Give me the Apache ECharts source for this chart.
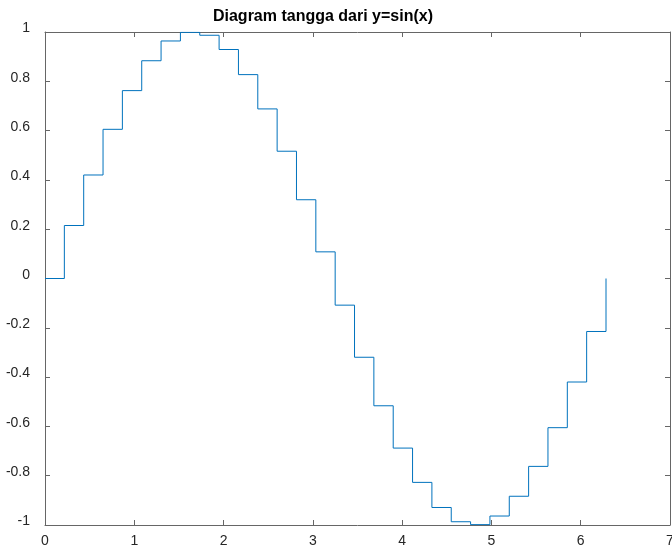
<!DOCTYPE html>
<html>
<head>
<meta charset="utf-8">
<script src="https://cdn.jsdelivr.net/npm/echarts@6/dist/echarts.min.js"></script>
<style>html,body{margin:0;padding:0;background:#fff}#c{width:672px;height:552px}</style>
</head>
<body>
<div id="c"></div>
<script>
var titleText = 'Diagram tangga dari y=sin(x)';
var xValues = [0, 0.2167, 0.4333, 0.6500, 0.8666, 1.0833, 1.3000, 1.5166, 1.7333, 1.9500,
  2.1666, 2.3833, 2.5999, 2.8166, 3.0333, 3.2499, 3.4666, 3.6833, 3.8999, 4.1166,
  4.3332, 4.5499, 4.7666, 4.9832, 5.1999, 5.4165, 5.6332, 5.8499, 6.0665, 6.2832];
var yValues = [0, 0.2150, 0.4199, 0.6052, 0.7622, 0.8834, 0.9636, 0.9985, 0.9868, 0.9290,
  0.8271, 0.6880, 0.5163, 0.3195, 0.1081, -0.1081, -0.3195, -0.5163, -0.6880, -0.8271,
  -0.9290, -0.9868, -0.9985, -0.9636, -0.8834, -0.7622, -0.6052, -0.4199, -0.2150, 0];

var pts = xValues.map(function (x, i) { return [x, yValues[i]]; });
var axisColor = '#666666';
var labelColor = '#262626';
var font = 'Liberation Sans, Arial, Helvetica, sans-serif';

function xAx(pos, showLabel) {
  return {
    type: 'value', position: pos, min: 0, max: 7, interval: 1,
    axisLine: { show: true, onZero: false, lineStyle: { color: axisColor, width: 1 } },
    axisTick: { show: true, inside: true, length: 5, lineStyle: { color: axisColor } },
    axisLabel: { show: showLabel, color: labelColor, fontSize: 14, fontFamily: font, margin: 9 },
    splitLine: { show: false }
  };
}
function yAx(pos, showLabel) {
  return {
    type: 'value', position: pos, min: -1, max: 1, interval: 0.2,
    axisLine: { show: true, onZero: false, lineStyle: { color: axisColor, width: 1 } },
    axisTick: { show: true, inside: true, length: 5, lineStyle: { color: axisColor } },
    axisLabel: { show: showLabel, color: labelColor, fontSize: 14, fontFamily: font, margin: 15,
      verticalAlign: 'bottom', lineHeight: 7,
      formatter: function (v) { return String(Math.round(v * 10) / 10); } },
    splitLine: { show: false }
  };
}

var chart = echarts.init(document.getElementById('c'), null, { renderer: 'canvas' });
chart.setOption({
  animation: false,
  backgroundColor: '#ffffff',
  title: {
    text: titleText, left: 318, textAlign: 'center', top: 4,
    textStyle: { fontSize: 16, fontWeight: 'bold', color: '#000', fontFamily: font }
  },
  grid: { left: 45, right: 2, top: 32, bottom: 27, containLabel: false, outerBoundsMode: 'none' },
  xAxis: [xAx('bottom', true), xAx('top', false)],
  yAxis: [yAx('left', true), yAx('right', false)],
  series: [{
    type: 'line', step: 'end', data: pts, showSymbol: false, symbol: 'none',
    xAxisIndex: 0, yAxisIndex: 0,
    lineStyle: { color: '#0072BD', width: 1 }
  }]
});
</script>
</body>
</html>
